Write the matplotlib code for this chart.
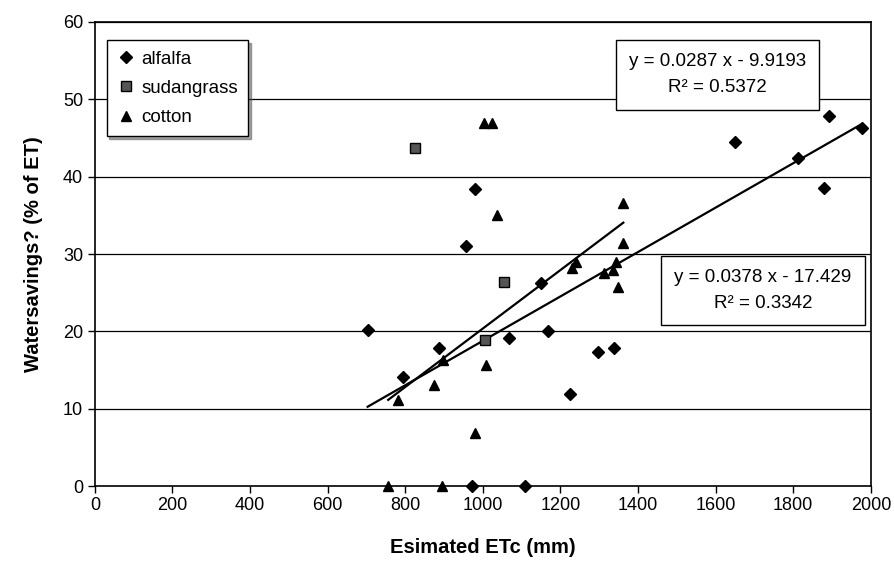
import matplotlib
matplotlib.use("Agg")
from matplotlib import pyplot as plt
import numpy as np

plt.rcParams['font.family'] = ['Liberation Sans', 'DejaVu Sans']

# data
alfalfa_x = [703, 795, 886, 956, 981, 973, 1068, 1109, 1149, 1169, 1224,
             1296, 1338, 1649, 1813, 1879, 1893, 1978]
alfalfa_y = [20.2, 14.1, 17.8, 31.0, 38.4, 0, 19.1, 0, 26.2, 20.0, 11.9,
             17.3, 17.8, 44.5, 42.4, 38.5, 47.9, 46.3]

sudan_x = [825, 1005, 1054]
sudan_y = [43.7, 18.9, 26.4]

cotton_x = [756, 782, 874, 895, 898, 979, 1003, 1009, 1024, 1037, 1231,
            1240, 1312, 1336, 1344, 1349, 1362, 1362]
cotton_y = [0, 11.1, 13.1, 0, 16.3, 6.8, 46.9, 15.7, 46.9, 35.1, 28.2,
            29.0, 27.5, 27.9, 29.0, 25.8, 31.4, 36.6]

# trend lines as printed on the chart
alfalfa_fit = (0.0287, -9.9193, 0.5372)
cotton_fit = (0.0378, -17.429, 0.3342)

xticks = list(range(0, 2001, 200))
yticks = list(range(0, 61, 10))

fig = plt.figure(figsize=(8.95, 5.78), dpi=100)
ax = fig.add_axes([0.106, 0.159, 0.867, 0.803])

for y in yticks[1:]:
    ax.axhline(y, color='black', lw=0.9, zorder=1)

ax.plot(alfalfa_x, alfalfa_y, 'D', color='black', ms=6.5, label='alfalfa',
        zorder=3, clip_on=False)
ax.plot(sudan_x, sudan_y, 's', mfc='#555555', mec='black', ms=6.5,
        label='sudangrass', zorder=3, clip_on=False)
ax.plot(cotton_x, cotton_y, '^', color='black', ms=7.5, label='cotton',
        zorder=3, clip_on=False)

for fit, xs in [(alfalfa_fit, alfalfa_x), (cotton_fit, cotton_x)]:
    xx = np.array([min(xs), max(xs)])
    ax.plot(xx, fit[0] * xx + fit[1], color='black', lw=1.6, zorder=2)

box = dict(boxstyle='square,pad=0.7', fc='white', ec='black', lw=1)
ax.text(0.802, 0.886, 'y = {} x - {}\nR² = {}'.format(
    alfalfa_fit[0], -alfalfa_fit[1], alfalfa_fit[2]),
    transform=ax.transAxes, ha='center', va='center', fontsize=13.5,
    linespacing=1.7, bbox=box, zorder=5)
ax.text(0.861, 0.422, 'y = {} x - {}\nR² = {}'.format(
    cotton_fit[0], -cotton_fit[1], cotton_fit[2]),
    transform=ax.transAxes, ha='center', va='center', fontsize=13.5,
    linespacing=1.7, bbox=box, zorder=5)

ax.set_xlim(0, 2000)
ax.set_ylim(0, 60)
ax.set_xticks(xticks)
ax.set_yticks(yticks)
ax.tick_params(direction='out', length=5, width=1, labelsize=13,
               colors='black')
ax.tick_params(axis='x', pad=3)
for s in ax.spines.values():
    s.set_color('black')
    s.set_linewidth(1.2)

ax.set_xlabel('Esimated ETc (mm)', fontsize=14.5, fontweight='bold',
              labelpad=17)
ax.set_ylabel('Watersavings? (% of ET)', fontsize=14.5, fontweight='bold',
              labelpad=14)

leg = ax.legend(loc='upper left', bbox_to_anchor=(0.015, 0.961),
                borderaxespad=0, fontsize=13.5, frameon=True,
                fancybox=False, edgecolor='black', handletextpad=0.3,
                handlelength=1.0, borderpad=0.55, labelspacing=0.65,
                shadow=True)
leg.get_frame().set_linewidth(1.0)
leg.set_zorder(6)

fig.savefig('out.png', dpi=100)
